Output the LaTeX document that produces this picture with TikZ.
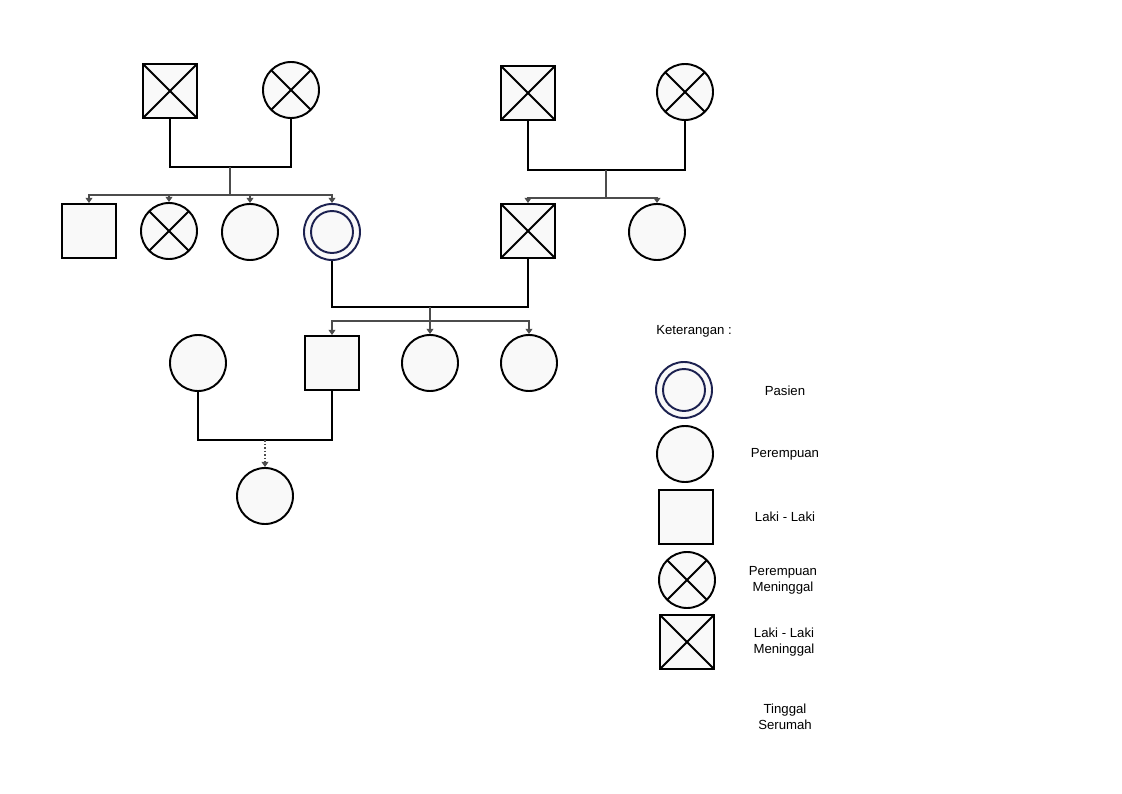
\documentclass[tikz,border=0pt]{standalone}
\usepackage{fontspec}
\setmainfont{Liberation Sans}
\usepackage{tikz}
\usetikzlibrary{arrows.meta, positioning}
\definecolor{symfill}{HTML}{F9F9F9}
\definecolor{navy}{HTML}{1C2150}
\tikzset{
  male/.style={draw, line width=1.1pt, fill=symfill, minimum size=54*0.02cm, inner sep=0pt},
  female/.style={draw, circle, line width=1.1pt, fill=symfill, minimum size=56*0.02cm, inner sep=0pt},
  dead/.style={path picture={\draw[line width=1.1pt] (path picture bounding box.south west)--(path picture bounding box.north east)
      (path picture bounding box.north west)--(path picture bounding box.south east);}},
  patient/.style={draw=navy, circle, line width=1.1pt, fill=symfill, minimum size=56*0.02cm, inner sep=0pt,
      path picture={\draw[navy, line width=1.1pt] (path picture bounding box.center) circle (0.42cm);}},
  couple/.style={line width=1.1pt},
  sib/.style={draw=gray!60!black, line width=0.6pt},
  kid/.style={draw=gray!60!black, line width=0.6pt, -{Triangle[length=3pt,width=4pt]}},
  lbl/.style={font=\fontsize{7.5}{9}\selectfont, align=center}
}
\begin{document}
\begin{tikzpicture}[x=0.02cm,y=-0.02cm]
\useasboundingbox (0,0) rectangle (1122,794);
% generation 1
\node[male,dead] (gfA) at (170,91) {};
\node[female,dead] (gmA) at (291,90) {};
\node[male,dead] (gfB) at (528,93) {};
\node[female,dead] (gmB) at (685,92) {};
% generation 2
\node[male] (u1) at (89,231) {};
\node[female,dead] (a1) at (169,231) {};
\node[female] (a2) at (250,232) {};
\node[patient] (pas) at (332,232) {};
\node[male,dead] (fa) at (528,231) {};
\node[female] (a3) at (657,232) {};
% generation 3
\node[female] (wife) at (198,363) {};
\node[male] (son) at (332,363) {};
\node[female] (d1) at (430,363) {};
\node[female] (d2) at (529,363) {};
% generation 4
\node[female] (gc) at (265,496) {};
% couples
\coordinate (mA) at (230,167);
\coordinate (mB) at (606,170);
\coordinate (mC) at (430,307);
\coordinate (mD) at (265,440);
\draw[couple] (gfA.south) |- (mA) -| (gmA.south);
\draw[couple] (gfB.south) |- (mB) -| (gmB.south);
\draw[couple] (pas.south) |- (mC) -| (fa.south);
\draw[couple] (wife.south) |- (mD) -| (son.south);
% sibships
\coordinate (sA) at (230,195);
\coordinate (sB) at (606,198);
\coordinate (sC) at (430,321);
\draw[sib] (mA) -- (sA);
\draw[sib] (mB) -- (sB);
\draw[sib] (mC) -- (sC);
\foreach \n in {u1,a1,a2,pas} \draw[kid] (sA) -| (\n.north);
\foreach \n in {fa,a3} \draw[kid] (sB) -| (\n.north);
\foreach \n in {son,d1,d2} \draw[kid] (sC) -| (\n.north);
\draw[kid, dash pattern=on 1pt off 1pt] (mD) -- (gc.north);
% legend
\node[lbl] (ket) at (694,331) {Keterangan :};
\node[patient] (kP) at (684,390) {};
\node[female] (kF) at (685,454) {};
\node[male] (kM) at (686,517) {};
\node[female,dead] (kFD) at (687,580) {};
\node[male,dead] (kMD) at (687,642) {};
\node[lbl] (tP) at (785,391) {Pasien};
\node[lbl] (tF) at (785,454) {Perempuan};
\node[lbl] (tM) at (785,517) {Laki - Laki};
\node[lbl] (tFD) at (783,580) {Perempuan\\ Meninggal};
\node[lbl] (tMD) at (784,642) {Laki - Laki\\ Meninggal};
\node[lbl] (tS) at (785,717) {Tinggal\\ Serumah};
\end{tikzpicture}
\end{document}
